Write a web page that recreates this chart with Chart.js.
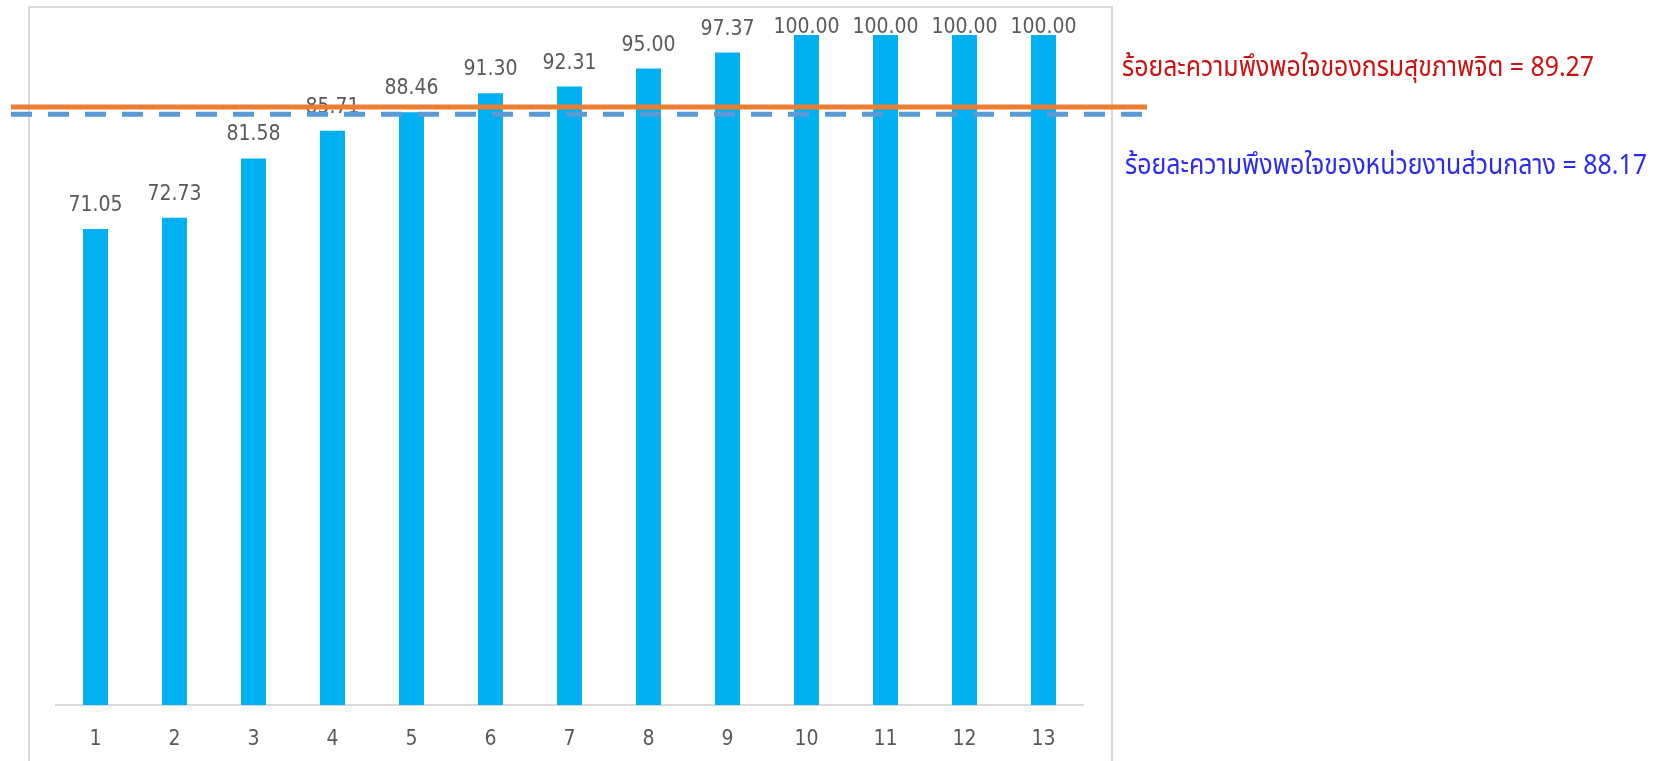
<!DOCTYPE html>
<html>
<head>
<meta charset="utf-8">
<script src="https://cdn.jsdelivr.net/npm/chart.js@4/dist/chart.umd.min.js"></script>
<style>
  html, body { margin: 0; padding: 0; background: #ffffff; }
  #wrap { width: 1674px; height: 761px; position: relative; }
</style>
</head>
<body>
<div id="wrap"><canvas id="c" width="1674" height="761"></canvas></div>
<script>
// Categories (units 1..13) and their satisfaction percentages
const categories = ['1', '2', '3', '4', '5', '6', '7', '8', '9', '10', '11', '12', '13'];
const satisfaction = [71.05, 72.73, 81.58, 85.71, 88.46, 91.30, 92.31, 95.00, 97.37, 100.00, 100.00, 100.00, 100.00];

// Reference averages drawn as horizontal lines
const deptAverage = 89.27;     // กรมสุขภาพจิต
const centralAverage = 88.17;  // หน่วยงานส่วนกลาง
const deptLabel = 'ร้อยละความพึงพอใจของกรมสุขภาพจิต = ' + deptAverage.toFixed(2);
const centralLabel = 'ร้อยละความพึงพอใจของหน่วยงานส่วนกลาง = ' + centralAverage.toFixed(2);

const numFont = '"DejaVu Sans Condensed", "DejaVu Sans", sans-serif';
const thaiFont = 'Tahoma, "Noto Sans Thai", "Noto Sans Thai UI", Garuda, Loma, "Noto Sans", sans-serif';

// Frame around the plot, like the surrounding chart box
const framePlugin = {
  id: 'frame',
  beforeDraw(chart) {
    const ctx = chart.ctx;
    ctx.save();
    ctx.strokeStyle = '#D9D9D9';
    ctx.lineWidth = 2;
    ctx.strokeRect(29, 7, 1112 - 29, 800);
    ctx.restore();
  }
};

// Value labels above bars, kept just under the top of the frame
const valueLabelPlugin = {
  id: 'valueLabels',
  afterDatasetsDraw(chart) {
    const ctx = chart.ctx;
    const meta = chart.getDatasetMeta(0);
    const top = chart.chartArea.top;
    ctx.save();
    ctx.font = '21px ' + numFont;
    ctx.fillStyle = '#595959';
    ctx.textAlign = 'center';
    ctx.textBaseline = 'alphabetic';
    meta.data.forEach((bar, i) => {
      const y = Math.max(bar.y - 18, top - 2);
      ctx.fillText(satisfaction[i].toFixed(2), bar.x, y);
    });
    ctx.restore();
  }
};

// Draw a caption, narrowing it horizontally when wider than the room given
function drawCaption(ctx, text, x, y, maxWidth) {
  const w = ctx.measureText(text).width;
  const sx = Math.min(1, maxWidth / w);
  ctx.save();
  ctx.translate(x, y);
  ctx.scale(sx, 1);
  ctx.fillText(text, 0, 0);
  ctx.restore();
}

// Average lines plus their captions on the right
const averagePlugin = {
  id: 'averages',
  afterDatasetsDraw(chart) {
    const ctx = chart.ctx;
    const yScale = chart.scales.y;
    const x0 = 11, x1 = 1147;
    ctx.save();
    // central units average: dashed blue
    const yc = yScale.getPixelForValue(centralAverage);
    ctx.strokeStyle = '#5B9BD5';
    ctx.lineWidth = 5;
    ctx.setLineDash([21, 16]);
    ctx.beginPath(); ctx.moveTo(x0, yc); ctx.lineTo(x1, yc); ctx.stroke();
    // department average: solid orange
    const yd = yScale.getPixelForValue(deptAverage);
    ctx.setLineDash([]);
    ctx.strokeStyle = '#ED7D31';
    ctx.beginPath(); ctx.moveTo(x0, yd); ctx.lineTo(x1, yd); ctx.stroke();

    ctx.textAlign = 'left';
    ctx.textBaseline = 'alphabetic';
    ctx.font = '28px ' + thaiFont;
    ctx.fillStyle = '#CC1111';
    drawCaption(ctx, deptLabel, 1122, 76, 472);
    ctx.fillStyle = '#2B2BF0';
    drawCaption(ctx, centralLabel, 1125, 174, 522);
    ctx.restore();
  }
};

new Chart(document.getElementById('c'), {
  type: 'bar',
  data: {
    labels: categories,
    datasets: [{
      data: satisfaction,
      backgroundColor: '#00B0F0',
      borderWidth: 0,
      barPercentage: 0.316,
      categoryPercentage: 1.0
    }]
  },
  options: {
    responsive: false,
    animation: false,
    events: [],
    layout: { padding: { left: 56, right: 591, top: 35, bottom: 0 } },
    plugins: { legend: { display: false }, tooltip: { enabled: false }, title: { display: false } },
    scales: {
      x: {
        grid: { display: false, drawTicks: false },
        border: { display: true, color: '#D9D9D9', width: 2 },
        ticks: { color: '#595959', font: { size: 21, family: numFont }, padding: 22 },
        afterFit(scale) { scale.height = 56; }
      },
      y: {
        display: false,
        min: 0,
        max: 100
      }
    }
  },
  plugins: [framePlugin, valueLabelPlugin, averagePlugin]
});
</script>
</body>
</html>
